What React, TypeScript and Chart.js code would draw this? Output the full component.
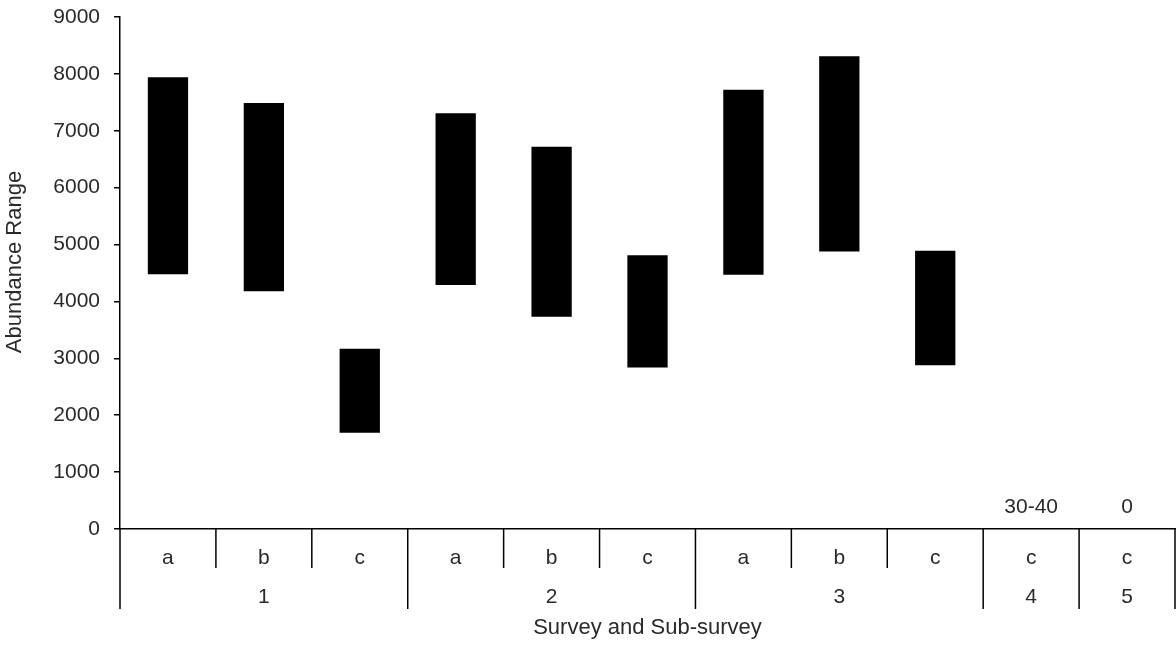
import React, { useEffect, useRef } from "react";
import { Chart, registerables } from "chart.js";

Chart.register(...registerables);

const subLabels = ["a", "b", "c", "a", "b", "c", "a", "b", "c", "c", "c"];
const groupLabels = ["1", "1", "1", "2", "2", "2", "3", "3", "3", "4", "5"];
const lowValues: (number | null)[] = [4480, 4180, 1690, 4290, 3730, 2840, 4470, 4880, 2880, null, null];
const highValues: (number | null)[] = [7940, 7490, 3170, 7310, 6720, 4810, 7720, 8310, 4890, null, null];
const noteLabels = ["", "", "", "", "", "", "", "", "", "30-40", "0"];
const yTicks = [0, 1000, 2000, 3000, 4000, 5000, 6000, 7000, 8000, 9000];

const FONT_FAMILY = "'Liberation Sans', Arial, sans-serif";
const TEXT_COLOR = "#2a2a2a";
const FONT_SIZE = 21;
const TITLE_SIZE = 22;

const multiLevelAxis = {
  id: "multiLevelAxis",
  afterDraw(chart: any) {
    const ctx = chart.ctx;
    const xs = chart.scales.x;
    const area = chart.chartArea;
    const bottom = area.bottom;
    const n = subLabels.length;
    const step = xs.getPixelForValue(1) - xs.getPixelForValue(0);
    const boundary = (i: number) => xs.getPixelForValue(0) - step / 2 + i * step;

    ctx.save();
    ctx.strokeStyle = "#000";
    ctx.lineWidth = 1.5;
    for (let i = 0; i <= n; i++) {
      const isGroup = i === 0 || i === n || groupLabels[i] !== groupLabels[i - 1];
      const x = boundary(i);
      ctx.beginPath();
      ctx.moveTo(x, bottom);
      ctx.lineTo(x, bottom + (isGroup ? 80 : 39));
      ctx.stroke();
    }

    ctx.fillStyle = TEXT_COLOR;
    ctx.font = `${FONT_SIZE}px ${FONT_FAMILY}`;
    ctx.textAlign = "center";
    ctx.textBaseline = "middle";
    for (let i = 0; i < n; i++) {
      ctx.fillText(subLabels[i], xs.getPixelForValue(i), bottom + 29);
    }
    let start = 0;
    for (let i = 1; i <= n; i++) {
      if (i === n || groupLabels[i] !== groupLabels[start]) {
        const cx = (boundary(start) + boundary(i)) / 2;
        ctx.fillText(groupLabels[start], cx, bottom + 68);
        start = i;
      }
    }
    for (let i = 0; i < n; i++) {
      if (noteLabels[i]) {
        ctx.fillText(noteLabels[i], xs.getPixelForValue(i), bottom - 22);
      }
    }
    ctx.font = `${TITLE_SIZE}px ${FONT_FAMILY}`;
    ctx.fillText("Survey and Sub-survey", (area.left + area.right) / 2, bottom + 99);

    ctx.translate(15, (area.top + area.bottom) / 2 - 11);
    ctx.rotate(-Math.PI / 2);
    ctx.fillText("Abundance Range", 0, 0);
    ctx.restore();
  },
};

export default function App() {
  const ref = useRef<HTMLCanvasElement | null>(null);

  useEffect(() => {
    document.body.style.margin = "0";
    if (!ref.current) return;
    const data = lowValues.map((lo, i) =>
      lo === null || highValues[i] === null ? null : [lo, highValues[i] as number]
    );
    const chart = new Chart(ref.current, {
      type: "bar",
      data: {
        labels: subLabels.map((s, i) => `${groupLabels[i]}${s}`),
        datasets: [
          {
            data: data as any,
            backgroundColor: "#000",
            borderWidth: 0,
            barPercentage: 0.42,
            categoryPercentage: 1,
          },
        ],
      },
      options: {
        animation: false,
        responsive: false,
        maintainAspectRatio: false,
        layout: { padding: { top: 0, right: 1, left: 0, bottom: 0 } },
        plugins: { legend: { display: false }, tooltip: { enabled: false } },
        scales: {
          x: {
            offset: true,
            grid: { display: false },
            border: { display: true, color: "#000", width: 1.5 },
            ticks: { display: false },
            afterFit: (scale: any) => {
              scale.height = 117;
            },
          },
          y: {
            min: 0,
            max: 9000,
            afterBuildTicks: (scale: any) => {
              scale.ticks = yTicks.map((v) => ({ value: v }));
            },
            grid: {
              drawOnChartArea: false,
              drawTicks: true,
              tickLength: 6,
              color: "#000",
              lineWidth: 1.5,
            },
            border: { display: true, color: "#000", width: 1.5 },
            ticks: {
              padding: 14,
              color: TEXT_COLOR,
              font: { family: FONT_FAMILY, size: FONT_SIZE },
              callback: (v: any) => String(v),
            },
            title: { display: false },
            afterFit: (scale: any) => {
              scale.width = 120;
              scale.paddingTop = 17;
              scale.paddingBottom = 0;
            },
          },
        },
      },
      plugins: [multiLevelAxis],
    });
    return () => chart.destroy();
  }, []);

  return <canvas ref={ref} width={1176} height={646} style={{ display: "block" }} />;
}
